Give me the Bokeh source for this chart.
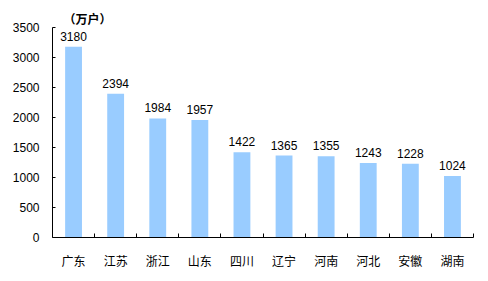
from bokeh.plotting import figure
from bokeh.models import ColumnDataSource, FixedTicker, Range1d, LabelSet, Title
from bokeh.core.properties import value
from bokeh.embed import file_html
from bokeh.resources import INLINE

categories = ["广东", "江苏", "浙江", "山东", "四川", "辽宁", "河南", "河北", "安徽", "湖南"]
values = [3180, 2394, 1984, 1957, 1422, 1365, 1355, 1243, 1228, 1024]
y_ticks = [0, 500, 1000, 1500, 2000, 2500, 3000, 3500]
unit_label = "（万户）"

xs = [i + 0.5 for i in range(len(categories))]
src = ColumnDataSource(dict(x=xs, top=values, lbl=[str(v) for v in values]))

p = figure(width=488, height=281, output_backend="svg", toolbar_location=None,
           x_range=Range1d(0, len(categories)), y_range=Range1d(0, 3500),
           min_border_left=52, min_border_right=15, min_border_top=27, min_border_bottom=44)
p.outline_line_color = None
p.xgrid.visible = False
p.ygrid.visible = False
p.background_fill_color = "white"
p.border_fill_color = "white"

p.vbar(x="x", top="top", width=0.4, bottom=0, source=src, fill_color="#99CCFF", line_color=None)

labels = LabelSet(x="x", y="top", text="lbl", source=src, text_align="center",
                  text_baseline="bottom", y_offset=6, text_font=value("Liberation Sans"),
                  text_font_size=value("12px"), text_color="black")
p.add_layout(labels)

p.xaxis.ticker = FixedTicker(ticks=xs, minor_ticks=list(range(1, len(categories) + 1)))
p.xaxis.major_label_overrides = {x: c for x, c in zip(xs, categories)}
p.xaxis.major_tick_line_color = None
p.xaxis.major_tick_in = 0
p.xaxis.major_tick_out = 0
p.xaxis.minor_tick_in = 4
p.xaxis.minor_tick_out = 0
p.xaxis.minor_tick_line_color = "black"
p.xaxis.major_label_standoff = 14
p.xaxis.major_label_text_font = "Noto Sans CJK SC"
p.xaxis.major_label_text_font_size = "12px"
p.xaxis.major_label_text_color = "black"
p.xaxis.axis_line_color = "black"

p.yaxis.ticker = FixedTicker(ticks=y_ticks, minor_ticks=[])
p.yaxis.major_tick_in = 3
p.yaxis.major_tick_out = 0
p.yaxis.major_tick_line_color = "black"
p.yaxis.minor_tick_line_color = None
p.yaxis.major_label_standoff = 13
p.yaxis.major_label_text_font = "Liberation Sans"
p.yaxis.major_label_text_font_size = "12px"
p.yaxis.major_label_text_color = "black"
p.yaxis.axis_line_color = "black"

unit = Title(text=unit_label, align="left", offset=11, standoff=2,
             text_font="Noto Sans CJK SC", text_font_size="12px", text_font_style="bold",
             text_color="black")
p.add_layout(unit, "above")

open("out.html", "w").write(file_html(p, INLINE))
